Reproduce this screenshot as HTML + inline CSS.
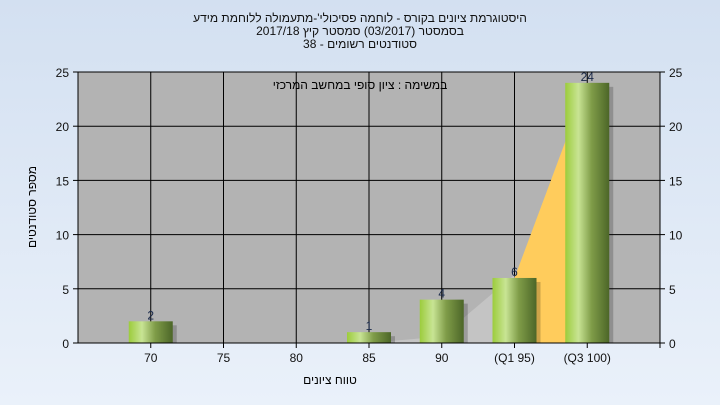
<!DOCTYPE html>
<html><head><meta charset="utf-8"><style>
html,body{margin:0;width:720px;height:405px;overflow:hidden;background:linear-gradient(#d3e0f1,#eaf1fa);font-family:"Liberation Sans","Noto Sans CJK SC",sans-serif}
svg{display:block}
</style></head><body>
<svg width="720" height="405">
<defs>
<linearGradient id="bg" x1="0" x2="1"><stop offset="0" stop-color="#9ccc3c"/><stop offset="0.3" stop-color="#c8e494"/><stop offset="0.6" stop-color="#7f9c48"/><stop offset="1" stop-color="#4c6628"/></linearGradient>
</defs>
<g font-size="12" fill="#111" text-anchor="middle" direction="rtl">
<text x="360" y="22">היסטוגרמת ציונים בקורס - לוחמה פסיכולי'-מתעמולה ללוחמת מידע</text>
<text x="360" y="35">בסמסטר  (03/2017)  סמסטר קיץ 2017/18</text>
<text x="360" y="48">סטודנטים רשומים - 38</text>
</g>
<rect x="78" y="72" width="582" height="271" fill="#b3b3b3"/>
<g id="grid"></g>
<g id="areas"></g>
<g id="bars"></g>
<text x="360" y="89" font-size="12" text-anchor="middle" direction="rtl">במשימה : ציון סופי במחשב המרכזי</text>
<g id="axes" font-size="12" fill="#111"></g>
<text x="330" y="384" font-size="12" text-anchor="middle" direction="rtl">טווח ציונים</text>
<text transform="translate(36,207) rotate(-90)" font-size="12" text-anchor="middle" direction="rtl">מספר סטודנטים</text>
</svg>
<script>
const categories=["70","75","80","85","90","(Q1 95)","(Q3 100)"];
const counts=[2,0,0,1,4,6,24];
const grayArea=[null,null,null,0,0.6,6.3,null];
const yellowArea=[null,null,null,null,null,6,24];
const yTicks=[0,5,10,15,20,25];
const NS="http://www.w3.org/2000/svg";
const X0=78,X1=660,Y0=343,Y1=72,slot=(X1-X0)/8;
const xs=i=>X0+slot*(i+1);
const ys=v=>Y0-(v/25)*(Y0-Y1);
function mk(t,a,p){const e=document.createElementNS(NS,t);for(const k in a)e.setAttribute(k,a[k]);p.appendChild(e);return e;}
const grid=document.getElementById('grid'),axes=document.getElementById('axes'),bars=document.getElementById('bars'),areas=document.getElementById('areas');
yTicks.forEach(v=>{
 const l=mk('line',{x1:X0,x2:X1,y1:ys(v),y2:ys(v),stroke:'#000','stroke-width':1},grid);
 
 
 mk('line',{x1:X0-5,x2:X0,y1:ys(v),y2:ys(v),stroke:'#000'},axes);
 mk('line',{x1:X1,x2:X1+5,y1:ys(v),y2:ys(v),stroke:'#000'},axes);
 const a=mk('text',{x:X0-9,y:ys(v)+5,'text-anchor':'end'},axes);a.textContent=v;
 
 
 const b=mk('text',{x:X1+9,y:ys(v)+5,'text-anchor':'start'},axes);b.textContent=v;
 
 
});
categories.forEach((c,i)=>{
 const l=mk('line',{x1:xs(i),x2:xs(i),y1:Y1,y2:Y0+5,stroke:'#000'},grid);
 
 
 const t=mk('text',{x:xs(i),y:Y0+19,'text-anchor':'middle'},axes);t.textContent=c;
 
 
});
mk('line',{x1:X0,x2:X0,y1:Y1,y2:Y0,stroke:'#000'},axes);
mk('line',{x1:X1,x2:X1,y1:Y1,y2:Y0+5,stroke:'#000'},axes);
mk('line',{x1:X0,x2:X1,y1:Y0,y2:Y0,stroke:'#000'},axes);
function area(vals,color,name){
 let pts=[],first=-1,last=-1;
 vals.forEach((v,i)=>{if(v!==null){if(first<0)first=i;last=i;}});
 pts.push(xs(first)+','+Y0);
 vals.forEach((v,i)=>{if(v!==null)pts.push(xs(i)+','+ys(v));});
 pts.push(xs(last)+','+Y0);
 const p=mk('polygon',{points:pts.join(' '),fill:color},areas);
 
 
}
area(grayArea,'#c4c4c4','distribution-area-gray');
area(yellowArea,'#ffcc5c','distribution-area-yellow');
const bw=44;
counts.forEach((v,i)=>{
 if(v<=0)return;
 mk('rect',{x:xs(i)-bw/2+4,y:ys(v)+4,width:bw,height:Y0-ys(v)-4,fill:'#000','fill-opacity':0.2},bars);
 const r=mk('rect',{x:xs(i)-bw/2,y:ys(v),width:bw,height:Y0-ys(v),fill:'url(#bg)'},bars);
 
 
 const t=mk('text',{x:xs(i),y:ys(v)-2,'text-anchor':'middle','font-size':12,fill:'#1a2a4a'},bars);t.textContent=v;
 
 
});
</script>
</body></html>
